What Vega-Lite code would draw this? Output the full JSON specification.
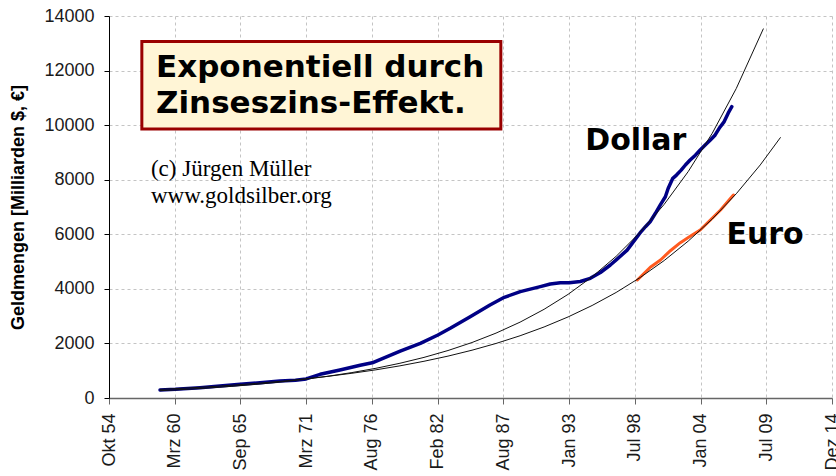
{
  "$schema": "https://vega.github.io/schema/vega-lite/v6.json",
  "width": 723,
  "height": 382,
  "autosize": {"type": "none"},
  "padding": {"left": 109, "top": 16, "right": 4, "bottom": 78},
  "background": "white",
  "config": {
    "view": {"stroke": null},
    "axis": {
      "labelFont": "Liberation Sans",
      "labelFontSize": 18,
      "labelColor": "#1a1a1a",
      "gridColor": "#C4C4C4",
      "gridDash": [3, 3],
      "gridWidth": 1,
      "labelFlush": false,
      "labelOverlap": false
    }
  },
  "datasets": {
    "main": [
      {"series": "Dollar", "date": "1959-01-08", "value": 295},
      {"series": "Dollar", "date": "1960-04-20", "value": 320},
      {"series": "Dollar", "date": "1962-05-08", "value": 380},
      {"series": "Dollar", "date": "1964-01-01", "value": 440},
      {"series": "Dollar", "date": "1965-09-12", "value": 500},
      {"series": "Dollar", "date": "1967-05-08", "value": 560},
      {"series": "Dollar", "date": "1969-01-01", "value": 620},
      {"series": "Dollar", "date": "1970-04-20", "value": 650},
      {"series": "Dollar", "date": "1971-03-12", "value": 700},
      {"series": "Dollar", "date": "1972-05-08", "value": 868},
      {"series": "Dollar", "date": "1974-01-01", "value": 1026},
      {"series": "Dollar", "date": "1975-09-10", "value": 1200},
      {"series": "Dollar", "date": "1976-09-10", "value": 1290},
      {"series": "Dollar", "date": "1979-01-08", "value": 1720},
      {"series": "Dollar", "date": "1980-09-12", "value": 2004},
      {"series": "Dollar", "date": "1982-02-28", "value": 2309},
      {"series": "Dollar", "date": "1983-03-10", "value": 2554},
      {"series": "Dollar", "date": "1984-11-06", "value": 2980},
      {"series": "Dollar", "date": "1986-07-01", "value": 3408},
      {"series": "Dollar", "date": "1987-09-10", "value": 3690},
      {"series": "Dollar", "date": "1989-01-08", "value": 3897},
      {"series": "Dollar", "date": "1990-09-10", "value": 4080},
      {"series": "Dollar", "date": "1991-07-08", "value": 4178},
      {"series": "Dollar", "date": "1992-05-08", "value": 4227},
      {"series": "Dollar", "date": "1993-02-06", "value": 4227},
      {"series": "Dollar", "date": "1994-01-08", "value": 4270},
      {"series": "Dollar", "date": "1994-11-06", "value": 4386},
      {"series": "Dollar", "date": "1995-09-10", "value": 4600},
      {"series": "Dollar", "date": "1996-07-08", "value": 4874},
      {"series": "Dollar", "date": "1997-01-20", "value": 5080},
      {"series": "Dollar", "date": "1997-12-01", "value": 5420},
      {"series": "Dollar", "date": "1998-09-01", "value": 5860},
      {"series": "Dollar", "date": "1999-02-01", "value": 6100},
      {"series": "Dollar", "date": "1999-06-12", "value": 6278},
      {"series": "Dollar", "date": "1999-11-01", "value": 6460},
      {"series": "Dollar", "date": "2000-04-10", "value": 6769},
      {"series": "Dollar", "date": "2000-09-01", "value": 7070},
      {"series": "Dollar", "date": "2001-02-06", "value": 7377},
      {"series": "Dollar", "date": "2001-05-01", "value": 7680},
      {"series": "Dollar", "date": "2001-09-20", "value": 8050},
      {"series": "Dollar", "date": "2002-01-10", "value": 8170},
      {"series": "Dollar", "date": "2002-06-01", "value": 8350},
      {"series": "Dollar", "date": "2002-10-08", "value": 8539},
      {"series": "Dollar", "date": "2003-03-01", "value": 8720},
      {"series": "Dollar", "date": "2003-08-08", "value": 8900},
      {"series": "Dollar", "date": "2004-01-01", "value": 9089},
      {"series": "Dollar", "date": "2004-06-01", "value": 9270},
      {"series": "Dollar", "date": "2004-11-06", "value": 9455},
      {"series": "Dollar", "date": "2005-04-01", "value": 9640},
      {"series": "Dollar", "date": "2005-08-01", "value": 9884},
      {"series": "Dollar", "date": "2006-01-01", "value": 10130},
      {"series": "Dollar", "date": "2006-05-01", "value": 10440},
      {"series": "Dollar", "date": "2006-08-20", "value": 10676},
      {"series": "Euro", "date": "1998-10-08", "value": 4325},
      {"series": "Euro", "date": "1999-11-06", "value": 4790},
      {"series": "Euro", "date": "2000-09-12", "value": 5057},
      {"series": "Euro", "date": "2001-07-08", "value": 5398},
      {"series": "Euro", "date": "2002-05-08", "value": 5692},
      {"series": "Euro", "date": "2003-03-15", "value": 5937},
      {"series": "Euro", "date": "2004-01-01", "value": 6157},
      {"series": "Euro", "date": "2004-11-06", "value": 6523},
      {"series": "Euro", "date": "2005-09-12", "value": 6890},
      {"series": "Euro", "date": "2006-10-08", "value": 7440},
      {"series": "Trend Dollar", "date": "1959-01-01", "value": 267},
      {"series": "Trend Dollar", "date": "1961-01-01", "value": 312},
      {"series": "Trend Dollar", "date": "1963-01-01", "value": 365},
      {"series": "Trend Dollar", "date": "1965-01-01", "value": 427},
      {"series": "Trend Dollar", "date": "1967-01-01", "value": 499},
      {"series": "Trend Dollar", "date": "1969-01-01", "value": 583},
      {"series": "Trend Dollar", "date": "1971-01-01", "value": 682},
      {"series": "Trend Dollar", "date": "1973-01-01", "value": 797},
      {"series": "Trend Dollar", "date": "1975-01-01", "value": 932},
      {"series": "Trend Dollar", "date": "1977-01-01", "value": 1089},
      {"series": "Trend Dollar", "date": "1979-01-01", "value": 1273},
      {"series": "Trend Dollar", "date": "1981-01-01", "value": 1488},
      {"series": "Trend Dollar", "date": "1983-01-01", "value": 1740},
      {"series": "Trend Dollar", "date": "1985-01-01", "value": 2034},
      {"series": "Trend Dollar", "date": "1987-01-01", "value": 2378},
      {"series": "Trend Dollar", "date": "1989-01-01", "value": 2780},
      {"series": "Trend Dollar", "date": "1991-01-01", "value": 3250},
      {"series": "Trend Dollar", "date": "1993-01-01", "value": 3799},
      {"series": "Trend Dollar", "date": "1995-01-01", "value": 4442},
      {"series": "Trend Dollar", "date": "1997-01-01", "value": 5193},
      {"series": "Trend Dollar", "date": "1999-01-01", "value": 6071},
      {"series": "Trend Dollar", "date": "2001-01-01", "value": 7097},
      {"series": "Trend Dollar", "date": "2003-01-01", "value": 8297},
      {"series": "Trend Dollar", "date": "2005-01-01", "value": 9700},
      {"series": "Trend Dollar", "date": "2007-01-01", "value": 11340},
      {"series": "Trend Dollar", "date": "2009-04-08", "value": 13540},
      {"series": "Trend Euro", "date": "1959-01-01", "value": 315},
      {"series": "Trend Euro", "date": "1961-01-01", "value": 359},
      {"series": "Trend Euro", "date": "1963-01-01", "value": 410},
      {"series": "Trend Euro", "date": "1965-01-01", "value": 468},
      {"series": "Trend Euro", "date": "1967-01-01", "value": 534},
      {"series": "Trend Euro", "date": "1969-01-01", "value": 609},
      {"series": "Trend Euro", "date": "1971-01-01", "value": 695},
      {"series": "Trend Euro", "date": "1973-01-01", "value": 794},
      {"series": "Trend Euro", "date": "1975-01-01", "value": 906},
      {"series": "Trend Euro", "date": "1977-01-01", "value": 1033},
      {"series": "Trend Euro", "date": "1979-01-01", "value": 1179},
      {"series": "Trend Euro", "date": "1981-01-01", "value": 1346},
      {"series": "Trend Euro", "date": "1983-01-01", "value": 1535},
      {"series": "Trend Euro", "date": "1985-01-01", "value": 1752},
      {"series": "Trend Euro", "date": "1987-01-01", "value": 1999},
      {"series": "Trend Euro", "date": "1989-01-01", "value": 2281},
      {"series": "Trend Euro", "date": "1991-01-01", "value": 2603},
      {"series": "Trend Euro", "date": "1993-01-01", "value": 2971},
      {"series": "Trend Euro", "date": "1995-01-01", "value": 3390},
      {"series": "Trend Euro", "date": "1997-01-01", "value": 3868},
      {"series": "Trend Euro", "date": "1999-01-01", "value": 4414},
      {"series": "Trend Euro", "date": "2001-01-01", "value": 5037},
      {"series": "Trend Euro", "date": "2003-01-01", "value": 5748},
      {"series": "Trend Euro", "date": "2005-01-01", "value": 6559},
      {"series": "Trend Euro", "date": "2007-01-01", "value": 7484},
      {"series": "Trend Euro", "date": "2009-01-01", "value": 8541},
      {"series": "Trend Euro", "date": "2010-09-12", "value": 9554}
    ],
    "note": [{"label": "note"}]
  },
  "layer": [
    {
      "data": {"name": "main"},
      "transform": [{"filter": "datum.series === 'Dollar'"}],
      "mark": {"type": "line", "color": "#000085", "strokeWidth": 3.5, "strokeJoin": "round", "strokeCap": "round"},
      "encoding": {
        "x": {
          "field": "date",
          "type": "temporal",
          "scale": {
            "type": "utc",
            "nice": false,
            "domain": [
              {"year": 1954, "month": 10, "date": 10, "utc": true},
              {"year": 2014, "month": 12, "date": 23, "utc": true}
            ]
          },
          "axis": {
            "title": null,
            "values": [
              {"year": 1954, "month": 10, "date": 10, "utc": true},
              {"year": 1960, "month": 3, "date": 31, "utc": true},
              {"year": 1965, "month": 9, "date": 20, "utc": true},
              {"year": 1971, "month": 3, "date": 12, "utc": true},
              {"year": 1976, "month": 8, "date": 31, "utc": true},
              {"year": 1982, "month": 2, "date": 20, "utc": true},
              {"year": 1987, "month": 8, "date": 12, "utc": true},
              {"year": 1993, "month": 1, "date": 31, "utc": true},
              {"year": 1998, "month": 7, "date": 23, "utc": true},
              {"year": 2004, "month": 1, "date": 12, "utc": true},
              {"year": 2009, "month": 7, "date": 3, "utc": true},
              {"year": 2014, "month": 12, "date": 23, "utc": true}
            ],
            "labelExpr": "['Jan','Feb','Mrz','Apr','Mai','Jun','Jul','Aug','Sep','Okt','Nov','Dez'][utcmonth(datum.value)] + ' ' + utcFormat(datum.value, '%y')",
            "labelAngle": -90,
            "labelAlign": "right",
            "labelBaseline": "middle",
            "tickSize": 6,
            "labelPadding": 9,
            "domainColor": "#666666",
            "tickColor": "#666666",
            "domainWidth": 1.5
          }
        },
        "y": {
          "field": "value",
          "type": "quantitative",
          "scale": {"domain": [0, 14000], "nice": false, "zero": true},
          "axis": {
            "title": "Geldmengen [Milliarden $, €]",
            "titleFont": "Liberation Sans",
            "titleFontWeight": "bold",
            "titleFontSize": 18,
            "titleColor": "#000000",
            "titlePadding": 16,
            "values": [0, 2000, 4000, 6000, 8000, 10000, 12000, 14000],
            "format": "d",
            "tickSize": 5,
            "labelPadding": 10,
            "domainColor": "#000000",
            "tickColor": "#000000"
          }
        }
      }
    },
    {
      "data": {"name": "main"},
      "transform": [{"filter": "datum.series === 'Euro'"}],
      "mark": {"type": "line", "color": "#FF5A1F", "strokeWidth": 3, "strokeJoin": "round", "strokeCap": "round"},
      "encoding": {
        "x": {"field": "date", "type": "temporal"},
        "y": {"field": "value", "type": "quantitative"}
      }
    },
    {
      "data": {"name": "main"},
      "transform": [{"filter": "datum.series === 'Trend Dollar' || datum.series === 'Trend Euro'"}],
      "mark": {"type": "line", "color": "#111111", "strokeWidth": 1},
      "encoding": {
        "x": {"field": "date", "type": "temporal"},
        "y": {"field": "value", "type": "quantitative"},
        "detail": {"field": "series", "type": "nominal"}
      }
    },
    {
      "data": {"name": "note"},
      "mark": {"type": "rect", "fill": "#FFF5D6", "stroke": "#990000", "strokeWidth": 3},
      "encoding": {
        "x": {"datum": {"year": 1957, "month": 7, "date": 5, "utc": true}, "type": "temporal"},
        "x2": {"datum": {"year": 1987, "month": 5, "date": 27, "utc": true}},
        "y": {"datum": 13065, "type": "quantitative"},
        "y2": {"datum": 9859}
      }
    },
    {
      "data": {"name": "note"},
      "mark": {"type": "text", "font": "DejaVu Sans", "fontWeight": "bold", "fontSize": 31, "align": "left", "baseline": "alphabetic", "lineHeight": 36, "color": "#000000", "text": ["Exponentiell durch", "Zinseszins-Effekt."]},
      "encoding": {
        "x": {"datum": {"year": 1958, "month": 9, "date": 8, "utc": true}, "type": "temporal"},
        "y": {"datum": 11764, "type": "quantitative"}
      }
    },
    {
      "data": {"name": "note"},
      "mark": {"type": "text", "font": "Liberation Serif", "fontSize": 23, "align": "left", "baseline": "alphabetic", "lineHeight": 26.5, "color": "#000000", "text": ["(c) Jürgen Müller", "www.goldsilber.org"]},
      "encoding": {
        "x": {"datum": {"year": 1958, "month": 4, "date": 8, "utc": true}, "type": "temporal"},
        "y": {"datum": 8136, "type": "quantitative"}
      }
    },
    {
      "data": {"name": "note"},
      "mark": {"type": "text", "font": "DejaVu Sans", "fontWeight": "bold", "fontSize": 30, "align": "left", "baseline": "alphabetic", "color": "#000000", "text": "Dollar"},
      "encoding": {
        "x": {"datum": {"year": 1994, "month": 6, "date": 6, "utc": true}, "type": "temporal"},
        "y": {"datum": 9089, "type": "quantitative"}
      }
    },
    {
      "data": {"name": "note"},
      "mark": {"type": "text", "font": "DejaVu Sans", "fontWeight": "bold", "fontSize": 30, "align": "left", "baseline": "alphabetic", "color": "#000000", "text": "Euro"},
      "encoding": {
        "x": {"datum": {"year": 2006, "month": 3, "date": 8, "utc": true}, "type": "temporal"},
        "y": {"datum": 5644, "type": "quantitative"}
      }
    }
  ]
}
